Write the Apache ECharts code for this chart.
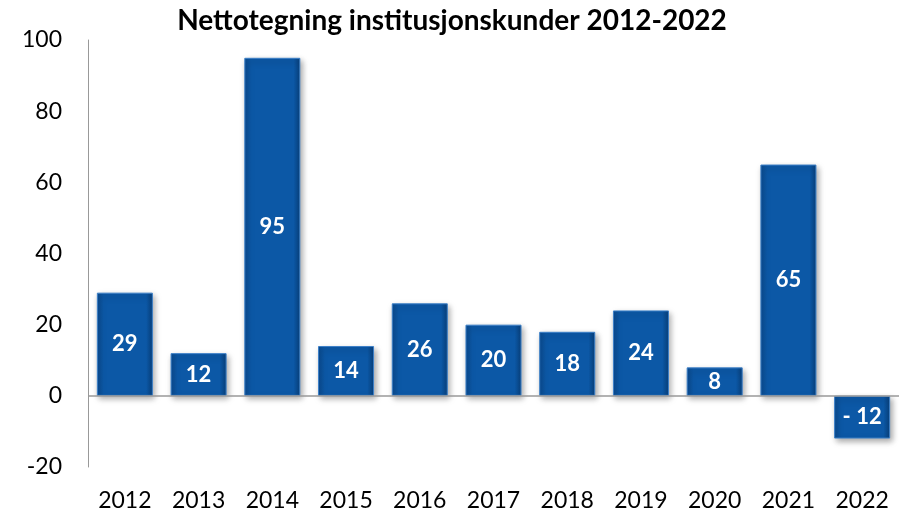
<!DOCTYPE html>
<html lang="no">
<head>
  <meta charset="UTF-8">
  <title>Nettotegning institusjonskunder</title>
  <style>
    body{ margin:0; background:#fff; }
    #chart{ width:904px; height:516px; }
  </style>
</head>
<body>
  <div id="chart"></div>
  <script src="https://cdn.jsdelivr.net/npm/echarts/dist/echarts.min.js"></script>
  <script>
// data
const years = ['2012','2013','2014','2015','2016','2017','2018','2019','2020','2021','2022'];
const netto = [29, 12, 95, 14, 26, 20, 18, 24, 8, 65, -12];
const yTicks = [-20, 0, 20, 40, 60, 80, 100];

const chart = echarts.init(document.getElementById('chart'));
const font = 'Lato, "Open Sans", sans-serif';

const barFill = new echarts.graphic.LinearGradient(0, 0, 1, 0, [
  { offset: 0, color: '#0a4a8e' },
  { offset: 0.12, color: '#0c58a6' },
  { offset: 0.88, color: '#0c58a6' },
  { offset: 1, color: '#083f7a' }
]);

chart.setOption({
  animation: false,
  title: {
    text: 'Nettotegning institusjonskunder 2012-2022',
    left: 'center',
    top: 2,
    textStyle: { fontFamily: font, fontWeight: 'bold', fontSize: 28, color: '#000' }
  },
  grid: { left: 88, right: 5, top: 40, bottom: 49 },
  xAxis: {
    type: 'category',
    data: years,
    axisLine: { show: false, onZero: false },
    axisTick: { show: false },
    axisLabel: { fontFamily: font, fontSize: 23, color: '#000', margin: 22 }
  },
  yAxis: {
    type: 'value',
    min: yTicks[0],
    max: yTicks[yTicks.length - 1],
    interval: 20,
    axisLine: { show: true, lineStyle: { color: '#999', width: 1 } },
    axisTick: { show: false },
    splitLine: { show: false },
    axisLabel: { fontFamily: font, fontSize: 23, color: '#000', margin: 26 }
  },
  series: [{
    type: 'bar',
    data: netto,
    barCategoryGap: '24%',
    itemStyle: {
      color: barFill,
      borderColor: '#3d80c8',
      borderWidth: 1,
      shadowBlur: 6,
      shadowColor: 'rgba(0,0,0,0.35)',
      shadowOffsetX: 2,
      shadowOffsetY: 3
    },
    label: {
      show: true,
      position: 'inside',
      color: '#fff',
      fontFamily: font,
      fontWeight: 'bold',
      fontSize: 22,
      formatter: p => p.value < 0 ? '- ' + Math.abs(p.value) : String(p.value)
    },
    markLine: {
      silent: true,
      symbol: 'none',
      label: { show: false },
      lineStyle: { color: '#999', width: 1.5, type: 'solid' },
      data: [{ yAxis: 0 }]
    }
  }]
});
  </script>
</body>
</html>
